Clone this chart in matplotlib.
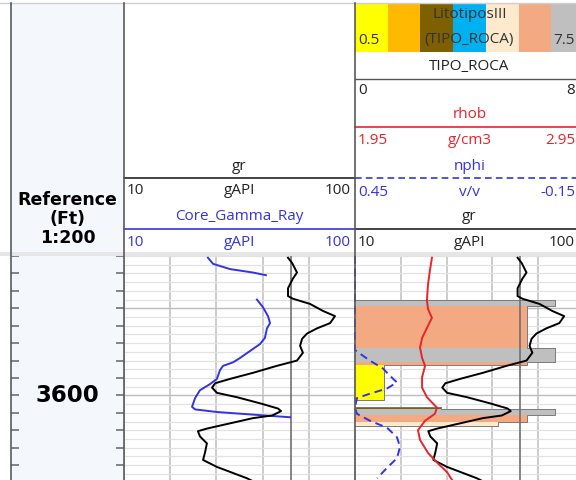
import numpy as np
import matplotlib
matplotlib.use("Agg")
import matplotlib.pyplot as plt
from matplotlib.ticker import MultipleLocator

W, H = 576, 480

depth_top = 3584.0
depth_bot = 3609.7
depth_labels = [3600]

# gr (black), same curve in both tracks
gr_depth = [3584.2, 3584.8, 3585.9, 3586.6, 3587.7, 3588.6, 3588.9, 3589.5, 3590.3, 3590.9,
            3591.7, 3592.3, 3592.9, 3593.5, 3594.3, 3595.1, 3596.0, 3596.6, 3597.4, 3598.1,
            3598.6, 3599.1, 3599.7, 3600.2, 3600.9, 3601.5, 3601.8, 3602.3, 3602.6, 3603.2,
            3603.8, 3604.1, 3604.7, 3605.5, 3606.5, 3607.4, 3608.2, 3608.9, 3609.5, 3609.8]
gr_val = [73.9, 75.5, 77.4, 75.8, 73.9, 73.9, 75.8, 82.5, 87.5, 92.2,
          90.3, 85.2, 81.3, 79.4, 78.6, 79.7, 77.4, 69.6, 60.3, 51.3,
          45.5, 44.3, 46.2, 54.0, 63.0, 70.0, 71.2, 67.7, 60.3, 51.3,
          42.3, 38.8, 39.6, 42.3, 41.6, 40.8, 46.2, 52.5, 57.9, 59.9]

# Core_Gamma_Ray (blue), two runs with a gap
core_depth_a = [3584.2, 3584.9, 3585.5, 3585.9, 3586.2]
core_val_a = [42.7, 44.7, 51.3, 60.3, 65.3]
core_depth_b = [3589.0, 3589.9, 3590.9, 3591.7, 3592.3, 3593.4, 3594.1, 3594.9, 3595.7, 3596.2,
                3596.6, 3597.1, 3598.1, 3598.7, 3599.4, 3600.3, 3601.3, 3601.6, 3601.9, 3602.2,
                3602.5]
core_val_b = [61.8, 64.2, 66.1, 66.9, 65.7, 64.9, 63.0, 59.1, 55.2, 52.5,
              48.6, 47.4, 46.2, 43.5, 39.6, 37.7, 36.5, 37.7, 46.2, 60.3,
              74.7]

rhob_depth = [3584.2, 3585.7, 3587.2, 3589.1, 3590.1, 3591.1, 3592.0, 3593.4, 3594.5, 3595.7,
              3596.6, 3597.9, 3599.1, 3600.2, 3601.4, 3602.1, 3602.9, 3604.0, 3605.1, 3606.6,
              3607.8, 3608.8, 3609.7]
rhob_val = [2.286, 2.277, 2.269, 2.264, 2.269, 2.286, 2.269, 2.243, 2.234, 2.243,
            2.256, 2.243, 2.243, 2.264, 2.308, 2.299, 2.256, 2.225, 2.234, 2.269,
            2.312, 2.352, 2.374]

nphi_depth = [3584.0, 3594.8, 3596.0, 3596.9, 3598.1, 3598.5, 3599.2, 3599.8, 3600.3, 3601.4,
              3602.1, 3602.9, 3603.7, 3604.8, 3605.9, 3607.2, 3608.3, 3609.5]
nphi_val = [0.45, 0.45, 0.411, 0.377, 0.350, 0.340, 0.366, 0.411, 0.445, 0.45,
            0.445, 0.411, 0.366, 0.340, 0.332, 0.340, 0.366, 0.392]

# TIPO_ROCA intervals
litho_top = [3589.1, 3589.7, 3594.5, 3596.2, 3596.5, 3601.35, 3601.5, 3602.2, 3603.0]
litho_base = [3589.7, 3594.5, 3596.2, 3596.5, 3600.5, 3601.5, 3602.2, 3603.0, 3603.55]
litho_code = [7, 6, 7, 6, 1, 3, 7, 6, 5]
litho_classes = [1, 2, 3, 4, 5, 6, 7]
litho_colors = ["#ffff00", "#ffb900", "#7f6000", "#00b0f0", "#fde9cc", "#f3aa82", "#bfbfbf"]

gr_cutoff = 75

HFONT = "Open Sans"
BLUE = "#3333e6"
RED = "#e8242c"

fig = plt.figure(figsize=(W / 100, H / 100), dpi=100)


def px_axes(x0, y0, x1, y1):
    return fig.add_axes([x0 / W, 1 - y1 / H, (x1 - x0) / W, (y1 - y0) / H])


def clean(ax):
    ax.set_xticks([])
    ax.set_yticks([])
    for s in ax.spines.values():
        s.set_visible(False)


# ---- depth track ----
dh = px_axes(11, 3, 124, 252)
clean(dh)
dh.set_facecolor("#f4f7fc")
for yy, txt in zip([0.207, 0.133, 0.055], ["Reference", "(Ft)", "1:200"]):
    dh.text(0.5, yy, txt, transform=dh.transAxes, ha="center", va="center",
            fontsize=12.5, fontweight="bold", family="DejaVu Sans")

dax = px_axes(11, 256, 124, 480)
dax.set_facecolor("#f4f7fc")
dax.set_ylim(depth_bot, depth_top)
dax.set_xlim(0, 1)
dax.yaxis.set_major_locator(MultipleLocator(2))
dax.tick_params(axis="y", which="both", direction="in", length=6, width=1.2, color="#707070",
                left=True, right=True, labelleft=False)
dax.set_xticks([])
for s in dax.spines.values():
    s.set_visible(False)
for d in depth_labels:
    dax.text(0.5, d, str(d), ha="center", va="center", fontsize=16.5, fontweight="bold",
             family="DejaVu Sans")


# ---- data tracks ----
def make_track(x0, x1):
    ax = px_axes(x0, 256, x1, 480)
    ax.set_ylim(depth_bot, depth_top)
    ax.set_xlim(0, 5)
    ax.set_xticks(range(6))
    ax.yaxis.set_major_locator(MultipleLocator(10))
    ax.yaxis.set_minor_locator(MultipleLocator(1))
    ax.grid(axis="x", color="#c8c8c8", lw=1.3)
    ax.grid(axis="y", which="minor", color="#e2e2e2", lw=0.9)
    ax.grid(axis="y", which="major", color="#bcbcbc", lw=1.0)
    ax.tick_params(which="both", length=0, labelleft=False, labelbottom=False)
    for s in ax.spines.values():
        s.set_visible(False)
    return ax


def curve_axes(base, lo, hi):
    c = base.twiny()
    c.set_xlim(lo, hi)
    c.set_ylim(depth_bot, depth_top)
    c.axis("off")
    return c


t1 = make_track(124, 355)
c1 = curve_axes(t1, 10, 100)
c1.axvline(gr_cutoff, color="#707070", lw=1.2)
c1.plot(core_val_a, core_depth_a, color=BLUE, lw=1.4)
c1.plot(core_val_b, core_depth_b, color=BLUE, lw=1.4)
c1.plot(gr_val, gr_depth, color="black", lw=1.4)

t2 = make_track(355, 584)
lith = curve_axes(t2, 0, 8)
for top, base, code in zip(litho_top, litho_base, litho_code):
    lith.fill_betweenx([top, base], 0, code, color=litho_colors[litho_classes.index(code)], lw=0)
xs, ys = [], []
prev = None
for top, base, code in zip(litho_top, litho_base, litho_code):
    if prev is None or abs(top - prev) > 1e-6:
        if prev is not None:
            xs += [0, np.nan]
            ys += [prev, np.nan]
        xs += [0]
        ys += [top]
    xs += [code, code]
    ys += [top, base]
    prev = base
xs += [0]
ys += [prev]
lith.plot(xs, ys, color="#7a7a7a", lw=0.7)

c2g = curve_axes(t2, 10, 100)
c2g.axvline(gr_cutoff, color="#707070", lw=1.2)
c2r = curve_axes(t2, 1.95, 2.95)
c2r.plot(rhob_val, rhob_depth, color=RED, lw=1.4)
c2n = curve_axes(t2, 0.45, -0.15)
c2n.plot(nphi_val, nphi_depth, color=BLUE, lw=1.4, ls=(0, (4, 2.5)), clip_on=False)
c2g.plot(gr_val, gr_depth, color="black", lw=1.4)

# ---- lithology legend bar in header ----
lb = px_axes(355, 3, 584, 52)
lb.bar(litho_classes, 1, width=1, color=litho_colors)
lb.set_xlim(0.5, 7.5)
lb.set_ylim(0, 1)
clean(lb)

# ---- header overlay ----
ov = fig.add_axes([0, 0, 1, 1])
ov.set_xlim(0, W)
ov.set_ylim(H, 0)
ov.axis("off")

FS = 11


def label_row(x0, x1, y, left, mid, right, color):
    kw = dict(va="center", fontsize=FS, family=HFONT, color=color)
    ov.text(x0 + 3, y, left, ha="left", **kw)
    ov.text((x0 + x1) / 2, y, mid, ha="center", **kw)
    ov.text(min(x1 - 4, W - 1), y, right, ha="right", **kw)


def title(x0, x1, y, txt, color):
    ov.text((x0 + x1) / 2, y, txt, ha="center", va="center", fontsize=FS,
            family=HFONT, color=color)


# track 1 header
title(124, 355, 166, "gr", "#222222")
ov.plot([124, 355], [178, 178], color="#222222", lw=1.2)
label_row(124, 355, 190, "10", "gAPI", "100", "#222222")
title(124, 355, 216, "Core_Gamma_Ray", BLUE)
ov.plot([124, 355], [229, 229], color=BLUE, lw=1.2)
label_row(124, 355, 242, "10", "gAPI", "100", BLUE)

# track 2 header (track runs past the right edge of the picture)
title(355, 584, 15, "LitotiposIII", "#333333")
label_row(355, 584, 40, "0.5", "(TIPO_ROCA)", "7.5", "#333333")
title(355, 584, 66, "TIPO_ROCA", "#222222")
ov.plot([355, 584], [79, 79], color="#555555", lw=1.0)
label_row(355, 584, 91, "0", "", "8", "#222222")
title(355, 584, 114, "rhob", RED)
ov.plot([355, 584], [127, 127], color=RED, lw=1.2)
label_row(355, 584, 141, "1.95", "g/cm3", "2.95", RED)
title(355, 584, 166, "nphi", BLUE)
ov.plot([355, 584], [178, 178], color=BLUE, lw=1.2, ls=(0, (4, 2.5)))
label_row(355, 584, 192, "0.45", "v/v", "-0.15", BLUE)
title(355, 584, 216, "gr", "#222222")
ov.plot([355, 584], [229, 229], color="#222222", lw=1.2)
label_row(355, 584, 242, "10", "gAPI", "100", "#222222")

# frame lines
ov.plot([0, W], [3, 3], color="#cfcfcf", lw=1.0)
ov.fill_between([0, W], 252, 256, color="#e6e6e6", lw=0)
for x in (11, 124, 355):
    ov.plot([x, x], [3, H], color="#5a5a5a", lw=1.2)

fig.savefig("out.png", dpi=100)
